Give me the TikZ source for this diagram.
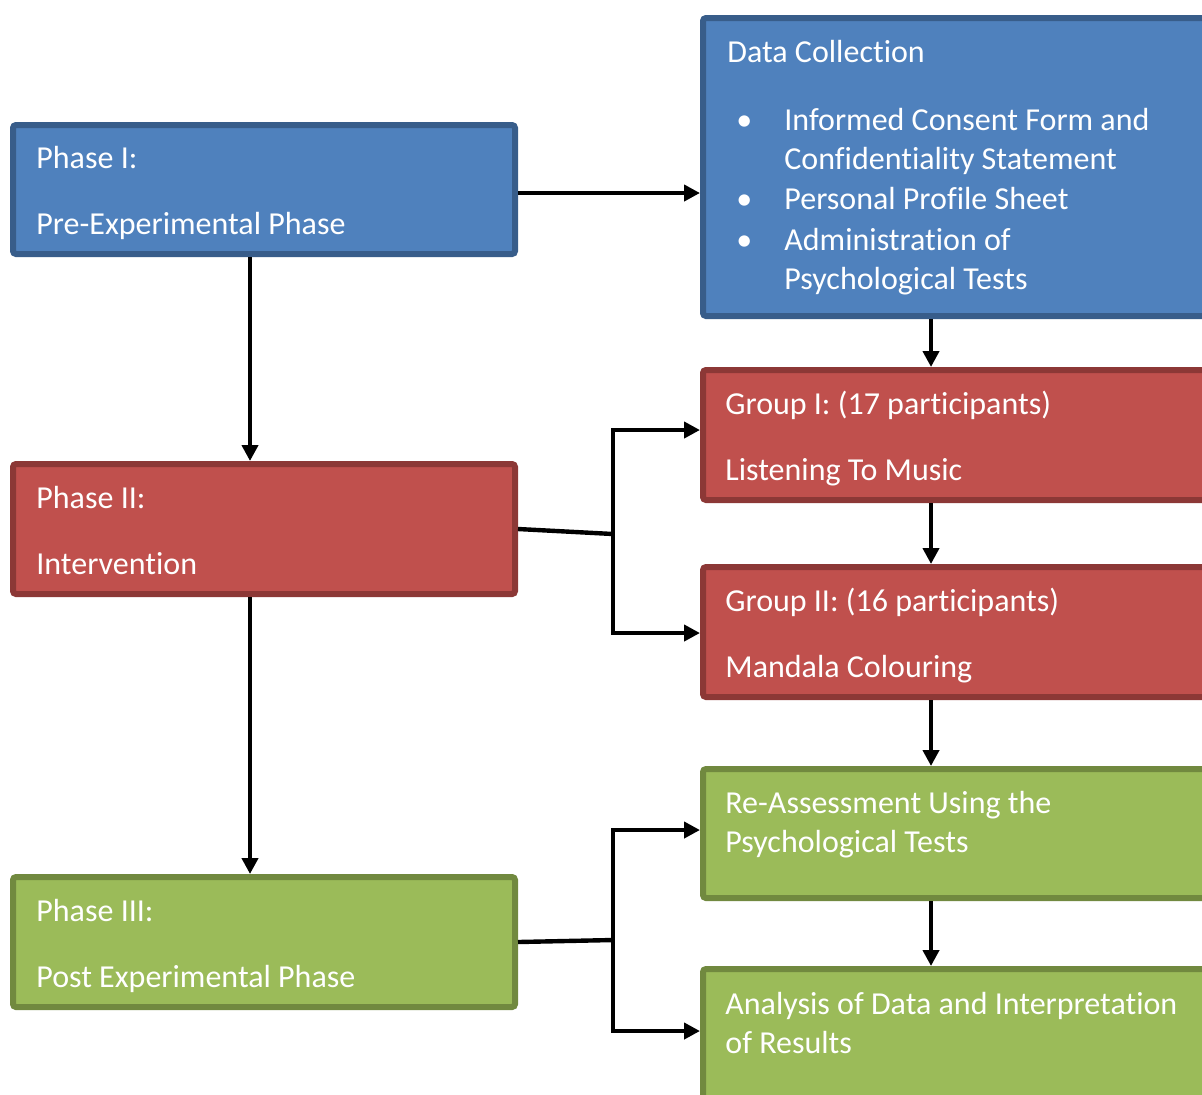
\documentclass[tikz,border=0pt]{standalone}
\usepackage{fontspec}
\setmainfont{Carlito}[Ligatures={NoCommon}]
\usetikzlibrary{arrows.meta}
\definecolor{bluefill}{HTML}{4F81BD}
\definecolor{blueline}{HTML}{385D8A}
\definecolor{redfill}{HTML}{C0504D}
\definecolor{redline}{HTML}{8C3836}
\definecolor{greenfill}{HTML}{9BBB59}
\definecolor{greenline}{HTML}{71893F}
\tikzset{
  box/.style={rectangle, rounded corners=1.5pt, line width=3pt, inner sep=0pt},
  bluebox/.style={box, draw=blueline, fill=bluefill},
  redbox/.style={box, draw=redline, fill=redfill},
  greenbox/.style={box, draw=greenline, fill=greenfill},
  txt/.style={anchor=base west, inner sep=0pt, text=white, font=\fontsize{16}{20}\selectfont},
  arr/.style={line width=2.2pt, -{Triangle[length=8pt,width=8pt]}},
  link/.style={line width=2.2pt}
}
\begin{document}
\begin{tikzpicture}[x=0.5pt, y=-0.5pt]
        \useasboundingbox (0,0) rectangle (1202,1094);
        \clip (0,0) rectangle (1202,1094);

        % Boxes on the left
        \node (ph1) [bluebox, minimum width=251pt, minimum height=64.5pt] at (264,189.5) {};
        \node (ph2) [redbox, minimum width=251pt, minimum height=65pt] at (264,529) {};
        \node (ph3) [greenbox, minimum width=251pt, minimum height=65pt] at (264,942) {};

        % Boxes on the right
        \node (data) [bluebox, minimum width=258.5pt, minimum height=149pt] at (961.5,167) {};
        \node (grp1) [redbox, minimum width=258.5pt, minimum height=65pt] at (961.5,435) {};
        \node (grp2) [redbox, minimum width=258.5pt, minimum height=65pt] at (961.5,632) {};
        \node (reas) [greenbox, minimum width=258.5pt, minimum height=64.5pt] at (961.5,833.5) {};
        \node (ana) [greenbox, minimum width=258.5pt, minimum height=75.5pt] at (961.5,1044.5) {};

        % Texts
        \node (t11) [txt] at (36,168) {Phase I:};
        \node (t12) [txt] at (36,234) {Pre-Experimental Phase};
        \node (t21) [txt] at (36,508) {Phase II:};
        \node (t22) [txt] at (36,574) {Intervention};
        \node (t31) [txt] at (36,921) {Phase III:};
        \node (t32) [txt] at (36,987) {Post Experimental Phase};

        \node (td0) [txt] at (727,62) {Data Collection};
        \node (b1) [txt] at (736,130) {\textbullet};
        \node (td1) [txt] at (784,130) {Informed Consent Form and};
        \node (td2) [txt] at (784,169) {Confidentiality Statement};
        \node (b2) [txt] at (736,209) {\textbullet};
        \node (td3) [txt] at (784,209) {Personal Profile Sheet};
        \node (b3) [txt] at (736,250) {\textbullet};
        \node (td4) [txt] at (784,250) {Administration of};
        \node (td5) [txt] at (784,289) {Psychological Tests};

        \node (tg11) [txt] at (725,414) {Group I: (17 participants)};
        \node (tg12) [txt] at (725,480) {Listening To Music};
        \node (tg21) [txt] at (725,611) {Group II: (16 participants)};
        \node (tg22) [txt] at (725,677) {Mandala Colouring};
        \node (tr1) [txt] at (725,813) {Re-Assessment Using the};
        \node (tr2) [txt] at (725,852) {Psychological Tests};
        \node (ta1) [txt] at (725,1014) {Analysis of Data and Interpretation};
        \node (ta2) [txt] at (725,1053) {of Results};

        % Helper coordinates
        \coordinate (lx) at (250,0);
        \coordinate (rx) at (931,0);
        \coordinate (br2) at (613,534);
        \coordinate (br3) at (613,940);

        % Edges
        \draw[arr] (ph1.east |- 0,193) -- (data.west |- 0,193);
        \draw[arr] (ph1.south -| lx) -- (ph2.north -| lx);
        \draw[arr] (ph2.south -| lx) -- (ph3.north -| lx);
        \draw[arr] (data.south -| rx) -- (grp1.north -| rx);
        \draw[arr] (grp1.south -| rx) -- (grp2.north -| rx);
        \draw[arr] (grp2.south -| rx) -- (reas.north -| rx);
        \draw[arr] (reas.south -| rx) -- (ana.north -| rx);

        \draw[link] (ph2.east) -- (br2);
        \draw[arr] (br2) |- (grp1.west |- 0,430);
        \draw[arr] (br2) |- (grp2.west |- 0,633);
        \draw[link] (ph3.east) -- (br3);
        \draw[arr] (br3) |- (reas.west |- 0,830);
        \draw[arr] (br3) |- (ana.west |- 0,1031);
\end{tikzpicture}
\end{document}
